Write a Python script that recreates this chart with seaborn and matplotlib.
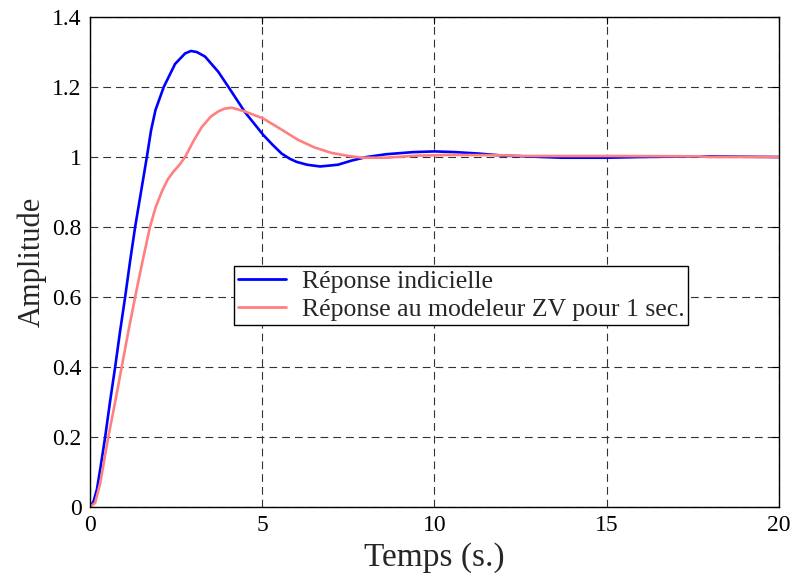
import matplotlib
matplotlib.use("Agg")
import matplotlib.pyplot as plt
import seaborn as sns
import pandas as pd

# Data
t_step = [0, 0.1, 0.2, 0.3, 0.44, 0.58, 0.73, 0.87, 1.02, 1.16, 1.31, 1.48, 1.65,
          1.77, 1.9, 2.14, 2.47, 2.76, 2.93, 3.1, 3.34, 3.72, 4.02, 4.5, 5.03, 5.3, 5.56,
          5.8, 6.0, 6.3, 6.68, 7.2, 7.6, 8.03, 8.6, 9.38, 10.0, 10.6, 11.26, 12.0,
          12.6, 13.7, 15.0, 16.0, 17.7, 20.0]
y_step = [0, 0.015, 0.05, 0.11, 0.2, 0.3, 0.4, 0.5, 0.6, 0.7, 0.8, 0.9, 1.0,
          1.075, 1.134, 1.2, 1.266, 1.296, 1.303, 1.3, 1.287, 1.244, 1.2, 1.128, 1.063, 1.035, 1.01,
          0.995, 0.986, 0.978, 0.973, 0.978, 0.99, 1.0, 1.008, 1.014, 1.016, 1.014, 1.01, 1.004,
          1.002, 0.998, 0.998, 1.0, 1.002, 1.0]

t_zv = [0, 0.15, 0.3, 0.53, 0.73, 0.92, 1.11, 1.31, 1.52, 1.74, 1.9, 2.08, 2.25,
        2.42, 2.6, 2.76, 3.0, 3.24, 3.5, 3.72, 3.9, 4.11, 4.5, 5.03, 5.5, 6.04, 6.5,
        7.0, 7.5, 7.93, 8.6, 9.48, 10.5, 12.0, 12.6, 15.0, 17.7, 18.0, 20.0]
y_zv = [0, 0.012, 0.07, 0.2, 0.3, 0.4, 0.5, 0.6, 0.7, 0.8, 0.855, 0.9, 0.935,
        0.958, 0.978, 1.0, 1.045, 1.085, 1.115, 1.13, 1.138, 1.141, 1.13, 1.11, 1.082, 1.049, 1.028,
        1.012, 1.003, 0.998, 0.998, 1.004, 1.006, 1.005, 1.003, 1.003, 1.002, 1.0, 1.0]

label_step = "Réponse indicielle"
label_zv = "Réponse au modeleur ZV pour 1 sec."
x_ticks = [0, 5, 10, 15, 20]
y_ticks = [0, 0.2, 0.4, 0.6, 0.8, 1.0, 1.2, 1.4]
y_ticklabels = ["0", "0.2", "0.4", "0.6", "0.8", "1", "1.2", "1.4"]

df = pd.concat([
    pd.DataFrame({"t": t_step, "y": y_step, "serie": label_step}),
    pd.DataFrame({"t": t_zv, "y": y_zv, "serie": label_zv}),
], ignore_index=True)

sns.set_style("white")
plt.rcParams["font.family"] = ["Liberation Serif", "DejaVu Serif"]

fig = plt.figure(figsize=(7.93, 5.77), dpi=100)
ax = fig.add_axes([0.1135, 0.1213, 0.8688, 0.8492])

sns.lineplot(data=df, x="t", y="y", hue="serie", sort=False,
             palette={label_step: "#0000FF", label_zv: "#FF8080"},
             linewidth=1.9, ax=ax, estimator=None)

ax.set_xlim(0, 20)
ax.set_ylim(0, 1.4)
ax.set_xticks(x_ticks)
ax.set_xticklabels([str(v) for v in x_ticks])
ax.set_yticks(y_ticks)
ax.set_yticklabels(y_ticklabels)
ax.tick_params(direction="in", length=5, width=0.8, labelsize=17, top=True, right=True,
               colors="black", pad=6)
ax.grid(True, color="#333333", linestyle=(0, (7, 4.5)), linewidth=0.8)
for s in ax.spines.values():
    s.set_color("black")
    s.set_linewidth(1.0)
    s.set_visible(True)
ax.set_xlabel("Temps (s.)", fontsize=24, labelpad=4)
ax.set_ylabel("Amplitude", fontsize=22, labelpad=4)

leg = ax.legend(loc="upper left", bbox_to_anchor=(0.2087, 0.492), fontsize=18.5,
                frameon=True, fancybox=False, framealpha=1, edgecolor="black",
                handlelength=1.9, borderpad=0.15, labelspacing=0.2, handletextpad=0.6,
                borderaxespad=0)
leg.get_frame().set_linewidth(1.0)
for lh in leg.get_lines():
    lh.set_linewidth(2.0)

fig.savefig("out.png", dpi=100)
